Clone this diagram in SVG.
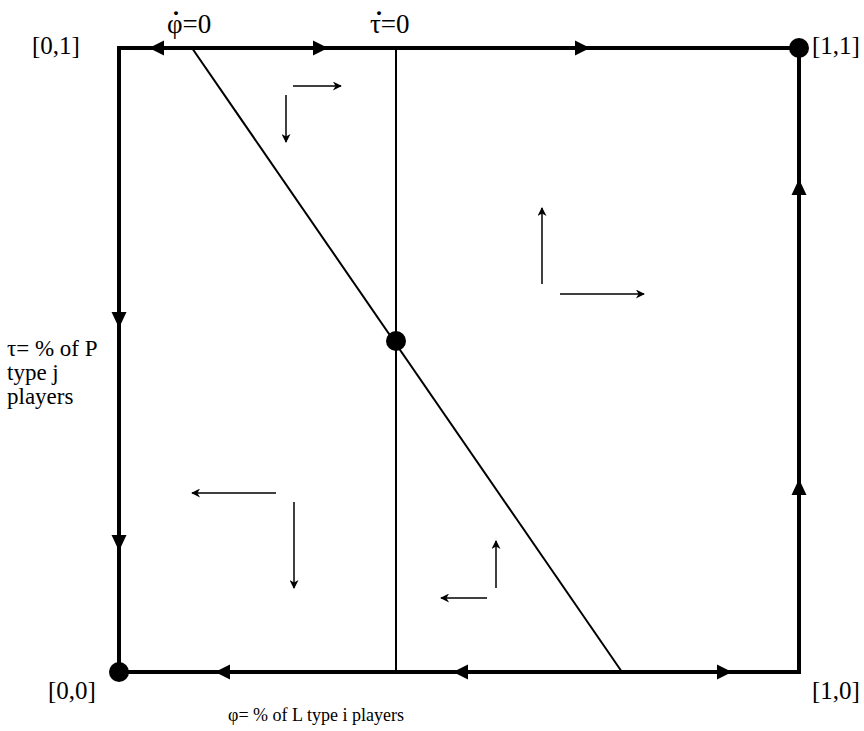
<svg xmlns="http://www.w3.org/2000/svg" width="864" height="731" viewBox="0 0 864 731">
<style>
text{font-family:"Liberation Serif","Times New Roman",serif;fill:#000}
.lbl{font-size:27px}
.dot{font-size:24px;font-weight:bold;text-anchor:middle}
.ax{font-size:25px}
.side{font-size:23px}
.thick{stroke:#000;stroke-width:4;fill:none}
.thin{stroke:#000;stroke-width:2;fill:none}
.arr{stroke:#000;stroke-width:1.5;fill:none;marker-end:url(#sm)}
.big{fill:#000}
</style>
<defs>
<marker id="sm" viewBox="0 0 10 10" refX="9" refY="5" markerWidth="10" markerHeight="9" markerUnits="userSpaceOnUse" orient="auto">
<path d="M0,0 L10,5 L0,10 L3,5 Z" fill="#000"/>
</marker>
</defs>
<g id="connectors">
<path class="thick" d="M119,48 H799 V672 H119 Z"/>
<line class="thin" x1="396" y1="48" x2="396" y2="672"/>
<line class="thin" x1="192" y1="48" x2="622" y2="672"/>
<path class="big" d="M149,48 L164,40.5 L164,55.5 Z"/>
<path class="big" d="M328,48 L313,40.5 L313,55.5 Z"/>
<path class="big" d="M590,48 L575,40.5 L575,55.5 Z"/>
<path class="big" d="M215,672 L230,664.5 L230,679.5 Z"/>
<path class="big" d="M453,672 L468,664.5 L468,679.5 Z"/>
<path class="big" d="M732,672 L717,664.5 L717,679.5 Z"/>
<path class="big" d="M119,328 L111.5,312 L126.5,312 Z"/>
<path class="big" d="M119,551 L111.5,535 L126.5,535 Z"/>
<path class="big" d="M799,179 L791.5,195 L806.5,195 Z"/>
<path class="big" d="M799,479 L791.5,495 L806.5,495 Z"/>
<line class="arr" x1="293" y1="86" x2="341" y2="86"/>
<line class="arr" x1="286" y1="95" x2="286" y2="142"/>
<line class="arr" x1="542" y1="284" x2="542" y2="208"/>
<line class="arr" x1="560" y1="294" x2="644" y2="294"/>
<line class="arr" x1="276" y1="493" x2="192" y2="493"/>
<line class="arr" x1="294" y1="502" x2="294" y2="588"/>
<line class="arr" x1="496" y1="588" x2="496" y2="541"/>
<line class="arr" x1="487" y1="598" x2="441" y2="598"/>
</g>
<g id="node-00"><circle cx="119" cy="672" r="10"/><text class="ax" x="48" y="699">[0,0]</text></g>
<g id="node-11"><circle cx="799" cy="48" r="10"/><text class="ax" x="812" y="54">[1,1]</text></g>
<g id="node-center"><circle cx="396" cy="341" r="10"/></g>
<g id="node-01"><text class="ax" x="32" y="54">[0,1]</text></g>
<g id="node-10"><text class="ax" x="812" y="699">[1,0]</text></g>
<g id="labels">
<text class="lbl" x="167" y="33">φ=0</text>
<text class="dot" x="176" y="21">·</text>
<text class="lbl" x="370" y="33">τ=0</text>
<text class="dot" x="379" y="21">·</text>
<text class="side" x="7" y="356">τ= % of P</text>
<text class="side" x="7" y="380">type j</text>
<text class="side" x="7" y="404">players</text>
<text style="font-size:18px" x="316" y="721" text-anchor="middle">φ= % of L type i players</text>
</g>
</svg>
